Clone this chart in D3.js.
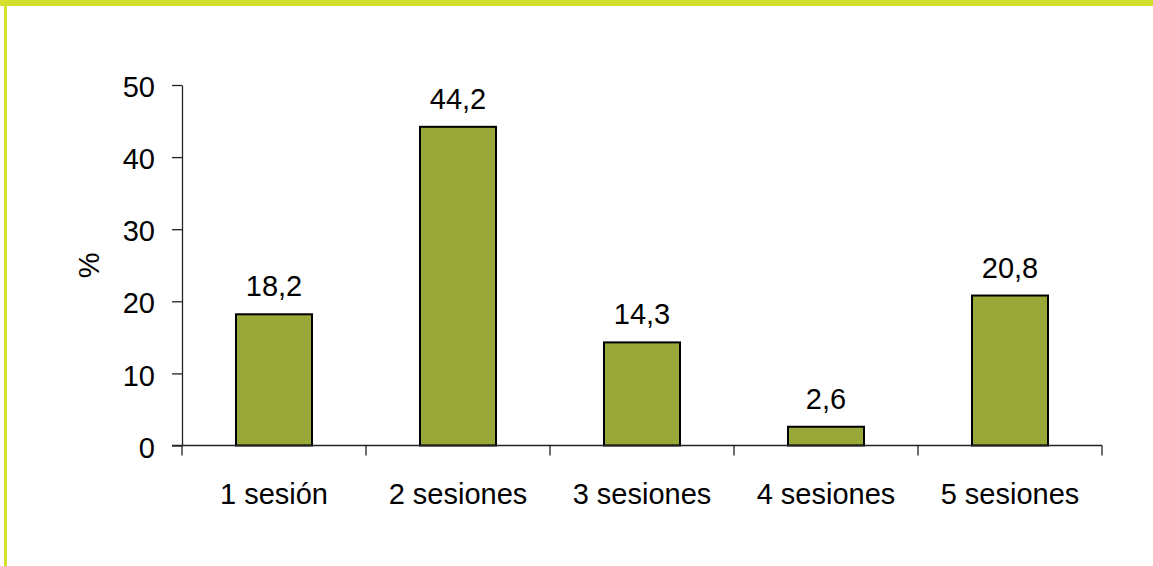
<!DOCTYPE html>
<html>
<head>
<meta charset="utf-8">
<script src="https://cdn.jsdelivr.net/npm/d3@7"></script>
<style>
  html, body { margin: 0; padding: 0; background: #fff; }
  text { font-family: "Liberation Sans", Arial, sans-serif; }
</style>
</head>
<body>
<div id="chart"></div>
<script>
const categorias = ["1 sesión", "2 sesiones", "3 sesiones", "4 sesiones", "5 sesiones"];
const valores = [18.2, 44.2, 14.3, 2.6, 20.8];
const etiquetas = ["18,2", "44,2", "14,3", "2,6", "20,8"];
const ticksY = [0, 10, 20, 30, 40, 50];

const paleta = {
  marco: "#d3df2b",
  barra: "#9aa83a",
  eje: "#222"
};

function chart() {
  const width = 1153;
  const height = 566;
  const margin = {left: 182, right: 51, top: 85, bottom: 120.5};

  const svg = d3.select("#chart").append("svg")
      .attr("width", width)
      .attr("height", height);

  // marco amarillo arriba y a la izquierda
  svg.append("rect")
      .attr("x", 0).attr("y", 0)
      .attr("width", width).attr("height", 6)
      .attr("fill", paleta.marco);
  svg.append("rect")
      .attr("x", 4).attr("y", 0)
      .attr("width", 3).attr("height", height)
      .attr("fill", paleta.marco);

  const x = d3.scaleBand()
      .domain(categorias)
      .range([margin.left, width - margin.right])
      .paddingInner(0.587)
      .paddingOuter(0.2935);

  const y = d3.scaleLinear()
      .domain([0, 50])
      .range([height - margin.bottom, margin.top]);

  // eje Y
  const ejeY = svg.append("g")
      .attr("transform", `translate(${margin.left},0)`)
      .call(d3.axisLeft(y).tickValues(ticksY).tickSize(10).tickSizeOuter(0).tickPadding(17));
  ejeY.select(".domain").attr("stroke", paleta.eje).attr("stroke-width", 1.3);
  ejeY.selectAll(".tick line").attr("stroke", paleta.eje).attr("stroke-width", 1.3);
  ejeY.selectAll(".tick text")
      .attr("font-size", 29)
      .attr("fill", "#000")
      .attr("dy", "0.4em");

  // barras
  svg.append("g")
    .selectAll("rect")
    .data(valores)
    .join("rect")
      .attr("x", (d, i) => x(categorias[i]))
      .attr("y", d => y(d))
      .attr("width", x.bandwidth())
      .attr("height", d => y(0) - y(d))
      .attr("fill", paleta.barra)
      .attr("stroke", "#000")
      .attr("stroke-width", 2);

  // eje X
  const y0 = y(0);
  const paso = x.step();
  const limites = d3.range(categorias.length + 1).map(i => margin.left + i * paso);
  svg.append("line")
      .attr("x1", margin.left - 10).attr("x2", width - margin.right)
      .attr("y1", y0).attr("y2", y0)
      .attr("stroke", paleta.eje).attr("stroke-width", 1.3);
  svg.append("g")
    .selectAll("line")
    .data(limites)
    .join("line")
      .attr("x1", d => d).attr("x2", d => d)
      .attr("y1", y0).attr("y2", y0 + 10)
      .attr("stroke", paleta.eje).attr("stroke-width", 1.3);

  svg.append("g")
    .selectAll("text")
    .data(categorias)
    .join("text")
      .attr("x", d => x(d) + x.bandwidth() / 2)
      .attr("y", y0 + 58)
      .attr("text-anchor", "middle")
      .attr("font-size", 29)
      .attr("fill", "#000")
      .text(d => d);

  // etiquetas de valores
  svg.append("g")
    .selectAll("text")
    .data(valores)
    .join("text")
      .attr("x", (d, i) => x(categorias[i]) + x.bandwidth() / 2)
      .attr("y", d => y(d) - 18)
      .attr("text-anchor", "middle")
      .attr("font-size", 29)
      .attr("fill", "#000")
      .text((d, i) => etiquetas[i]);

  // titulo eje Y
  svg.append("text")
      .attr("transform", `translate(99,${(margin.top + y0) / 2}) rotate(-90)`)
      .attr("text-anchor", "middle")
      .attr("font-size", 29)
      .attr("fill", "#000")
      .text("%");

  return svg.node();
}

chart();
</script>
</body>
</html>
